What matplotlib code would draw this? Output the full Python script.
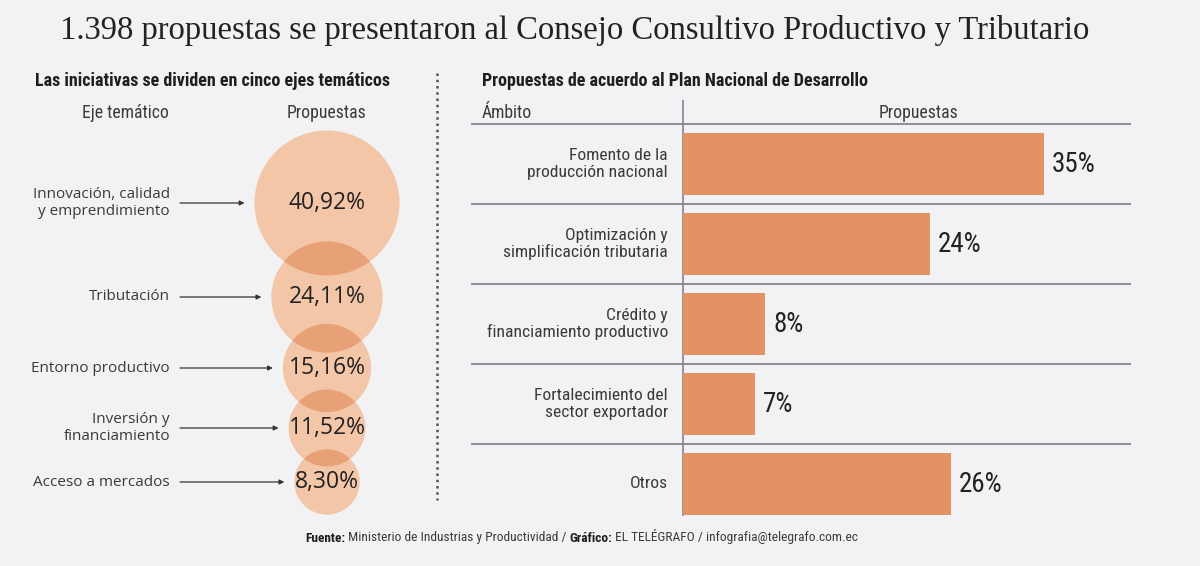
import matplotlib.pyplot as plt
from matplotlib.patches import Circle
import numpy as np

# data
ejes = ["Innovación, calidad\ny emprendimiento", "Tributación", "Entorno productivo",
        "Inversión y\nfinanciamiento", "Acceso a mercados"]
ejes_pct = [40.92, 24.11, 15.16, 11.52, 8.30]

ambitos = ["Fomento de la\nproducción nacional", "Optimización y\nsimplificación tributaria",
           "Crédito y\nfinanciamiento productivo", "Fortalecimiento del\nsector exportador", "Otros"]
ambitos_pct = [35, 24, 8, 7, 26]

BG = "#f2f2f4"
LIGHT = "#f2c6a6"
DARK = "#e8a176"
BAR = "#e39264"
TXT = "#3a3a3a"
NARROW = ["Roboto Condensed", "Liberation Sans", "DejaVu Sans"]
WIDE = ["Open Sans", "DejaVu Sans"]

fig = plt.figure(figsize=(12, 5.66), dpi=100, facecolor=BG)
ax = fig.add_axes([0, 0, 1, 1])
ax.set_xlim(0, 1200)
ax.set_ylim(566, 0)
ax.axis("off")

# title
ax.text(575, 30, "1.398 propuestas se presentaron al Consejo Consultivo Productivo y Tributario",
        family="Liberation Serif", fontsize=23.5, color="#222222", ha="center", va="center")

# --- left panel: bubbles ---
ax.text(35, 81, "Las iniciativas se dividen en cinco ejes temáticos", family=NARROW,
        fontweight="bold", fontsize=13, color="#1e1e1e", ha="left", va="center")
ax.text(125, 113, "Eje temático", family=NARROW, fontsize=12.7, color=TXT, ha="center", va="center")
ax.text(327, 113, "Propuestas", family=NARROW, fontsize=12.7, color=TXT, ha="center", va="center")

cx = 327
cy = [203, 297, 368, 428, 482]
rmax = 72.5
radii = [rmax * np.sqrt(v / max(ejes_pct)) for v in ejes_pct]

circles = []
for y, r in zip(cy, radii):
    c = Circle((cx, y), r, facecolor=LIGHT, edgecolor="none", zorder=1)
    ax.add_patch(c)
    circles.append(c)
# darker lens where neighbouring circles overlap
for i in range(len(circles) - 1):
    lens = Circle((cx, cy[i]), radii[i], facecolor=DARK, edgecolor="none", zorder=2)
    ax.add_patch(lens)
    lens.set_clip_path(circles[i + 1])

for y, r, v, lab in zip(cy, radii, ejes_pct, ejes):
    ax.text(cx, y, f"{v:.2f}%".replace(".", ","), family=WIDE, fontsize=16.5,
            color="#222222", ha="center", va="center", zorder=3)
    ax.text(170, y, lab, family=WIDE, fontsize=11, color=TXT, ha="right", va="center",
            multialignment="right", linespacing=1.1)
    ax.annotate("", xy=(cx - r - 10, y), xytext=(180, y),
                arrowprops=dict(arrowstyle="-|>", color="#333333", lw=0.9,
                                mutation_scale=7, shrinkA=0, shrinkB=0))

# dotted divider
ax.vlines(437, 73, 500, colors="#555555", linestyles=(0, (1, 1.5)), lw=1.8)

# --- right panel: bars ---
ax.text(482, 81, "Propuestas de acuerdo al Plan Nacional de Desarrollo", family=NARROW,
        fontweight="bold", fontsize=13, color="#1e1e1e", ha="left", va="center")
ax.text(482, 113, "Ámbito", family=NARROW, fontsize=12.7, color=TXT, ha="left", va="center")
ax.text(918, 113, "Propuestas", family=NARROW, fontsize=12.7, color=TXT, ha="center", va="center")
ax.vlines(683, 100, 516, colors="#80858c", lw=1.2)

px_per_pct = 10.31
axb = fig.add_axes([683 / 1200, (566 - 524) / 566, 448 / 1200, 400 / 566])
axb.set_xlim(0, 448 / px_per_pct)
axb.set_ylim(len(ambitos) - 0.5, -0.5)
axb.axis("off")
axb.patch.set_alpha(0)

rows = np.arange(len(ambitos))
axb.barh(rows, ambitos_pct, height=0.77, color=BAR, zorder=2)
axb.hlines(rows - 0.5, -212 / px_per_pct, 448 / px_per_pct, colors="#80858c", lw=1.3,
           clip_on=False)
for r, v, lab in zip(rows, ambitos_pct, ambitos):
    axb.text(v + 0.75, r, f"{v}%", family=NARROW, fontsize=19.5, color="#222222",
             ha="left", va="center")
    axb.text(-1.45, r, lab, family=NARROW, fontsize=12.6, color=TXT, ha="right",
             va="center", multialignment="right", linespacing=1.15)

# footer
fs = 9.6
t1 = ax.text(305, 538, "Fuente:", family=NARROW, fontweight="bold", fontsize=fs,
             color="#1e1e1e", ha="left", va="center")
t2 = ax.annotate(" Ministerio de Industrias y Productividad / ", xy=(1, 0), xycoords=t1,
                 family=NARROW, fontsize=fs, color=TXT, ha="left", va="bottom")
t3 = ax.annotate("Gráfico:", xy=(1, 0), xycoords=t2, family=NARROW, fontweight="bold",
                 fontsize=fs, color="#1e1e1e", ha="left", va="bottom")
ax.annotate(" EL TELÉGRAFO / infografia@telegrafo.com.ec", xy=(1, 0), xycoords=t3,
            family=NARROW, fontsize=fs, color=TXT, ha="left", va="bottom")

fig.savefig("out.png", dpi=100, facecolor=BG)
